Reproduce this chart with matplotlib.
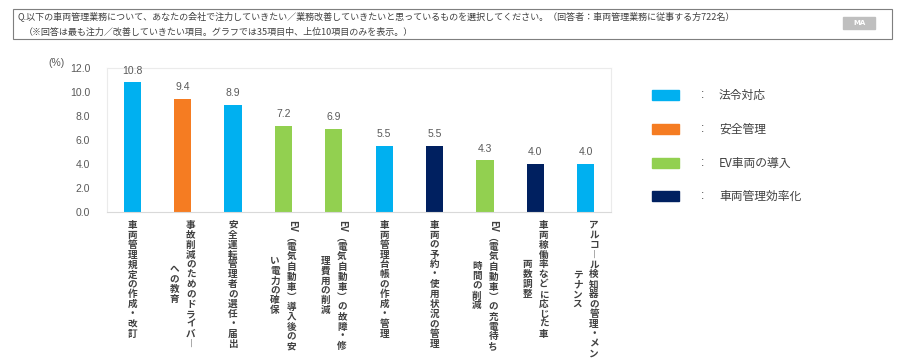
import matplotlib.pyplot as plt
from matplotlib.patches import Rectangle

plt.rcParams['font.family'] = ['Noto Sans CJK JP', 'DejaVu Sans']

# data
categories = [
    "車両管理規定の作成・改訂",
    "事故削減のためのドライバー\nへの教育",
    "安全運転管理者の選任・届出",
    "EV（電気自動車）導入後の安\nい電力の確保",
    "EV（電気自動車）の故障・修\n理費用の削減",
    "車両管理台帳の作成・管理",
    "車両の予約・使用状況の管理",
    "EV（電気自動車）の充電待ち\n時間の削減",
    "車両稼働率などに応じた車\n両数調整",
    "アルコール検知器の管理・メン\nテナンス",
]
values = [10.8, 9.4, 8.9, 7.2, 6.9, 5.5, 5.5, 4.3, 4.0, 4.0]
groups = ["法令対応", "安全管理", "法令対応", "EV車両の導入", "EV車両の導入",
          "法令対応", "車両管理効率化", "EV車両の導入", "車両管理効率化", "法令対応"]
group_names = ["法令対応", "安全管理", "EV車両の導入", "車両管理効率化"]
group_colors = ["#00B0F0", "#F57C22", "#92D050", "#002060"]
yticks = [0, 2, 4, 6, 8, 10, 12]

title1 = "Q.以下の車両管理業務について、あなたの会社で注力していきたい／業務改善していきたいと思っているものを選択してください。（回答者：車両管理業務に従事する方722名）"
title2 = "（※回答は最も注力／改善していきたい項目。グラフでは35項目中、上位10項目のみを表示。）"

TXT = "#404040"
GRAY = "#595959"

fig = plt.figure(figsize=(9, 3.61), dpi=100)
ax = fig.add_axes([107 / 900, 1 - 212 / 361, 504 / 900, 144 / 361])

color_of = dict(zip(group_names, group_colors))
xs = range(len(values))
ax.bar(xs, values, width=0.34, color=[color_of[g] for g in groups], zorder=2)
for x, v in zip(xs, values):
    ax.annotate(f"{v:.1f}", (x, v), xytext=(0, 8.5), textcoords="offset points",
                ha="center", va="center", fontsize=7.5, color=GRAY,
                family="Liberation Sans")

ax.set_xlim(-0.5, len(values) - 0.5)
ax.set_ylim(0, 12)
ax.set_yticks(yticks)
ax.set_yticklabels([f"{t:.1f}" for t in yticks], family="Liberation Sans",
                   fontsize=7.5, color=GRAY)
ax.tick_params(axis="y", length=0, pad=12)
ax.set_xticks([])
for s in ax.spines.values():
    s.set_color("#EBEBEB")
    s.set_linewidth(0.8)
ax.spines["bottom"].set_color("#D9D9D9")
fig.text(48 / 900, 1 - 63 / 361, "(%)", fontsize=7.5, color=GRAY,
         family="Liberation Sans", va="center")

# vertical (tategaki) category labels, drawn char by char
VMAP = {"（": "︵", "）": "︶", "ー": "︱"}
pitch = 7.15    # points per character
colgap = 11.9   # points between columns
top0 = 5.6


def tokens(s):
    out = []
    buf = ""
    for ch in s:
        if ch.isascii():
            buf += ch
            continue
        if buf:
            out.append((buf, 1.25))
            buf = ""
        out.append((VMAP.get(ch, ch), 1.0))
    if buf:
        out.append((buf, 1.25))
    return out


for i, label in enumerate(categories):
    cols = [tokens(c) for c in label.split("\n")]
    lens = [sum(t[1] for t in c) for c in cols]
    maxlen = max(lens)
    n = len(cols)
    for j, col in enumerate(cols):
        dx = (n - 1) / 2 * colgap - j * colgap
        y = top0 + (maxlen - lens[j]) / 2 * pitch
        for tok, w in col:
            yc = y + w * pitch / 2
            ax.annotate(tok, (i, 0), xycoords=("data", "axes fraction"),
                        xytext=(dx, -yc), textcoords="offset points",
                        ha="center", va="center", fontsize=6.9, color=TXT,
                        weight="bold", rotation=-90 if tok.isascii() else 0,
                        annotation_clip=False)
            y += w * pitch

# legend
rows_y = [95, 129, 163, 196]
for name, c, ry in zip(group_names, group_colors, rows_y):
    fig.add_artist(Rectangle((652 / 900, 1 - (ry + 5) / 361), 27 / 900, 10 / 361,
                             transform=fig.transFigure, color=c))
    fig.text(703 / 900, 1 - ry / 361, ":", fontsize=8.5, color=TXT,
             ha="center", va="center", family="Liberation Sans")
    fig.text(719 / 900, 1 - ry / 361, name, fontsize=8.5, color=TXT, va="center")

# header box
fig.add_artist(Rectangle((13 / 900, 1 - 39 / 361), 879 / 900, 30 / 361,
                         transform=fig.transFigure, fill=False, ec="#7F7F7F", lw=0.8))
fig.text(17 / 900, 1 - 16 / 361, title1, fontsize=6.5, color=TXT, va="center")
fig.text(24 / 900, 1 - 32 / 361, title2, fontsize=6.5, color=TXT, va="center")
fig.add_artist(Rectangle((843 / 900, 1 - 29 / 361), 32 / 900, 12 / 361,
                         transform=fig.transFigure, color="#BFBFBF"))
fig.text(859 / 900, 1 - 23 / 361, "MA", fontsize=5, color="white", weight="bold",
         ha="center", va="center", family="DejaVu Sans")

fig.savefig("out.png", dpi=100)
